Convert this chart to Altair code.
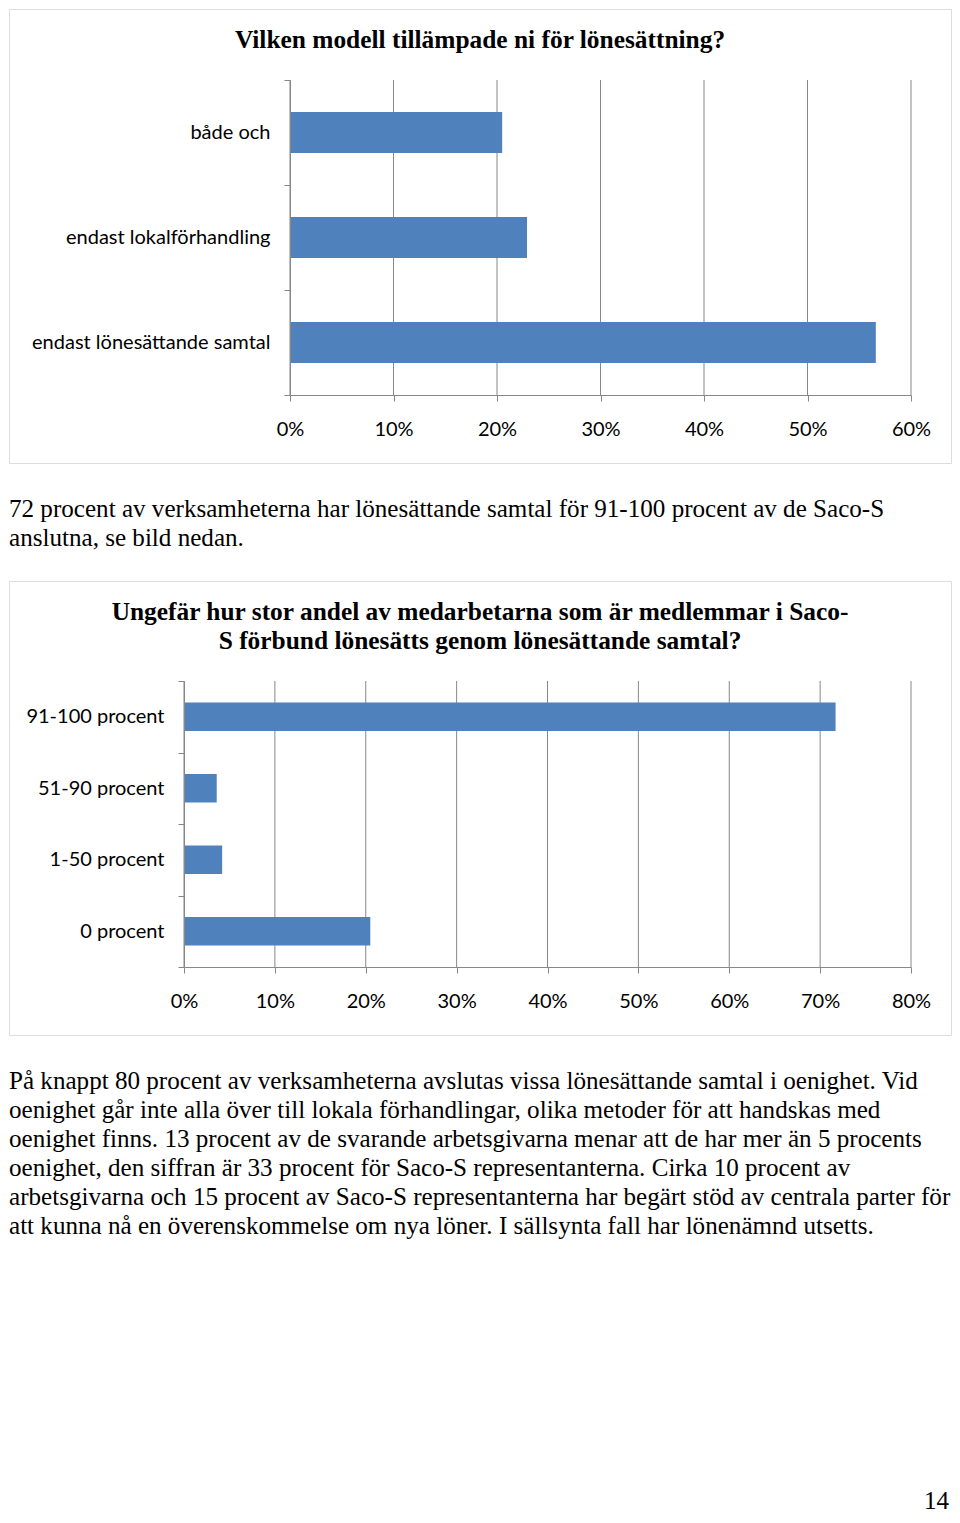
import altair as alt
import pandas as pd

# ---------------- data ----------------
q1_title = ["Vilken modell tillämpade ni för lönesättning?"]
q1_categories = ["både och", "endast lokalförhandling", "endast lönesättande samtal"]
q1_values = [0.205, 0.229, 0.566]
q1_ticks = [0.0, 0.1, 0.2, 0.3, 0.4, 0.5, 0.6]

q2_title = ["Ungefär hur stor andel av medarbetarna som är medlemmar i Saco-",
            "S förbund lönesätts genom lönesättande samtal?"]
q2_categories = ["91-100 procent", "51-90 procent", "1-50 procent", "0 procent"]
q2_values = [0.717, 0.036, 0.042, 0.205]
q2_ticks = [0.0, 0.1, 0.2, 0.3, 0.4, 0.5, 0.6, 0.7, 0.8]

paragraph1 = [
    "72 procent av verksamheterna har lönesättande samtal för 91-100 procent av de Saco-S",
    "anslutna, se bild nedan.",
]
paragraph2 = [
    "På knappt 80 procent av verksamheterna avslutas vissa lönesättande samtal i oenighet. Vid",
    "oenighet går inte alla över till lokala förhandlingar, olika metoder för att handskas med",
    "oenighet finns. 13 procent av de svarande arbetsgivarna menar att de har mer än 5 procents",
    "oenighet, den siffran är 33 procent för Saco-S representanterna. Cirka 10 procent av",
    "arbetsgivarna och 15 procent av Saco-S representanterna har begärt stöd av centrala parter för",
    "att kunna nå en överenskommelse om nya löner. I sällsynta fall har lönenämnd utsetts.",
]
page_number = ["14"]

# ---------------- style ----------------
BOX_W, BOX_H = 942, 454
BAR = "#4F81BD"
GRID = "#878787"
SERIF = "Liberation Serif"
SANS = "Lato"
LABEL_SIZE = 20
TITLE_SIZE = 25.4
TEXT_SIZE = 25.1


def text_layer(lines, x, y, align="left", bold=False, size=TEXT_SIZE):
    df = pd.DataFrame({"t": ["\n".join(lines)]})
    return alt.Chart(df).mark_text(
        font=SERIF, fontSize=size, fontWeight="bold" if bold else "normal",
        align=align, baseline="alphabetic", lineBreak="\n", lineHeight=29,
        color="black",
    ).encode(text="t:N", x=alt.value(x), y=alt.value(y))


def box(title, cats, vals, ticks, xmax, x_range, y_range, band_frac, paragraph, extra=None):
    df = pd.DataFrame({"category": cats, "value": vals})
    tick_df = pd.DataFrame({"value": ticks})
    x_enc = alt.X(
        "value:Q",
        scale=alt.Scale(domain=[0, xmax], range=x_range, nice=False, zero=True),
        axis=alt.Axis(
            values=ticks, format=".0%", orient="bottom",
            offset=-(BOX_H - y_range[1]), grid=False,
            domainColor=GRID, tickColor=GRID, tickSize=6,
            labelPadding=34, labelBaseline="alphabetic", labelFont=SANS,
            labelFontSize=LABEL_SIZE, labelColor="black", labelFlush=False,
            labelOverlap=False, title=None,
        ),
    )
    grid = alt.Chart(tick_df).mark_rule(color=GRID, strokeWidth=1).encode(
        x=x_enc, y=alt.value(y_range[0]), y2=alt.value(y_range[1])
    )
    bars = alt.Chart(df).mark_bar(color=BAR, height={"band": band_frac}).encode(
        x=x_enc,
        y=alt.Y(
            "category:N", sort=cats,
            scale=alt.Scale(domain=cats, range=y_range, paddingInner=0, paddingOuter=0),
            axis=alt.Axis(
                orient="left", offset=-x_range[0], tickBand="extent",
                domainColor=GRID, tickColor=GRID, tickSize=6, labelPadding=14,
                labelFont=SANS, labelFontSize=LABEL_SIZE, labelColor="black",
                labelLimit=0, grid=False, title=None, zindex=1,
            ),
        ),
    )
    layers = [grid, bars,
              text_layer(title, BOX_W / 2, 39, align="center", bold=True, size=TITLE_SIZE),
              text_layer(paragraph, 0, 508)]
    if extra is not None:
        layers.append(extra)
    return alt.layer(*layers).properties(width=BOX_W, height=BOX_H)


chart1 = box(q1_title, q1_categories, q1_values, q1_ticks, 0.6,
             [281, 902], [71, 386], 0.39, paragraph1)
chart2 = box(q2_title, q2_categories, q2_values, q2_ticks, 0.8,
             [175, 902], [100, 386], 0.396, paragraph2,
             extra=text_layer(page_number, 940, 928, align="right"))

chart = alt.vconcat(chart1, chart2, spacing=118, bounds="flush").properties(
    padding={"top": -10, "left": 0, "right": 0, "bottom": 0}
).configure_view(
    stroke="#999999", strokeWidth=1.5
).configure(background="white")

chart.save("out.html", embed_options={"renderer": "svg", "actions": False})
